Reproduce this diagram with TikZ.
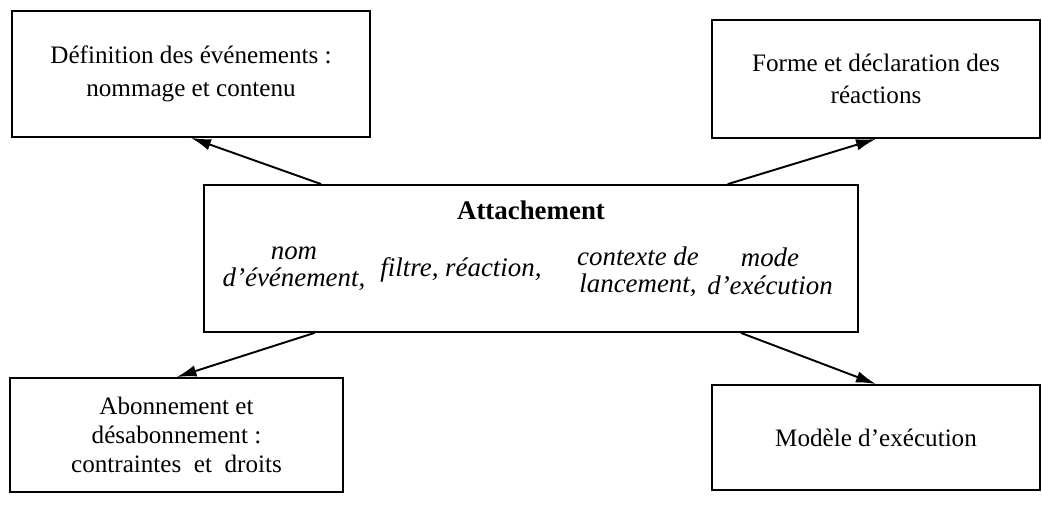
\documentclass[tikz,border=0pt]{standalone}
\usepackage{fontspec}
\setmainfont{Liberation Serif}
\usetikzlibrary{calc}
\usetikzlibrary{arrows.meta}

\begin{document}
\begin{tikzpicture}
    \tikzstyle{topic}=[draw, line width=1pt, align=center, inner sep=0pt,
      font=\fontsize{14.3}{18.5}\selectfont]
    \tikzstyle{field}=[align=center, inner sep=0pt,
      font=\fontsize{15.3}{15.6}\selectfont\itshape]
    \tikzstyle{link}=[line width=1.1pt, -{Latex[length=4mm, width=2.3mm]}]

    \useasboundingbox (0, 0) rectangle (20.84, 10.14);

    % Attachement
    \node[topic, minimum width=13.08cm, minimum height=2.94cm] (attach) at (10.62, 4.97) {};
    \node[font=\fontsize{15.3}{18}\selectfont\bfseries] (title) at (10.62, 5.94) {Attachement};
    \node[field] (nom) at (5.88, 4.76) {nom\\d’événement,};
    \node[field] (filtre) at (9.22, 4.74) {filtre, réaction,};
    \node[field] (contexte) at (12.76, 4.71) {contexte de\\lancement,};
    \node[field] (mode) at (15.40, 4.71) {mode\\d’exécution};

    % Topics around
    \node[topic, minimum width=7.16cm, minimum height=2.52cm] (defn) at (3.82, 8.66)
      {Définition des événements :\\nommage et contenu};
    \node[topic, minimum width=6.56cm, minimum height=2.36cm] (forme) at (17.52, 8.56)
      {Forme et déclaration des\\réactions};
    \node[topic, minimum width=6.66cm, minimum height=2.28cm,
      font=\fontsize{14.3}{16.5}\selectfont] (abon) at (3.53, 1.44)
      {Abonnement et\\désabonnement :\\contraintes\ \ et\ \ droits};
    \node[topic, minimum width=6.56cm, minimum height=2.10cm] (modele) at (17.52, 1.39)
      {Modèle d’exécution};

    % Links
    \draw[link] ($(attach.north west)!0.18!(attach.north east)$) -- (defn.south);
    \draw[link] ($(attach.north west)!0.80!(attach.north east)$) -- (forme.south);
    \draw[link] ($(attach.south west)!0.17!(attach.south east)$) -- (abon.north);
    \draw[link] ($(attach.south west)!0.82!(attach.south east)$) -- (modele.north);
\end{tikzpicture}
\end{document}
